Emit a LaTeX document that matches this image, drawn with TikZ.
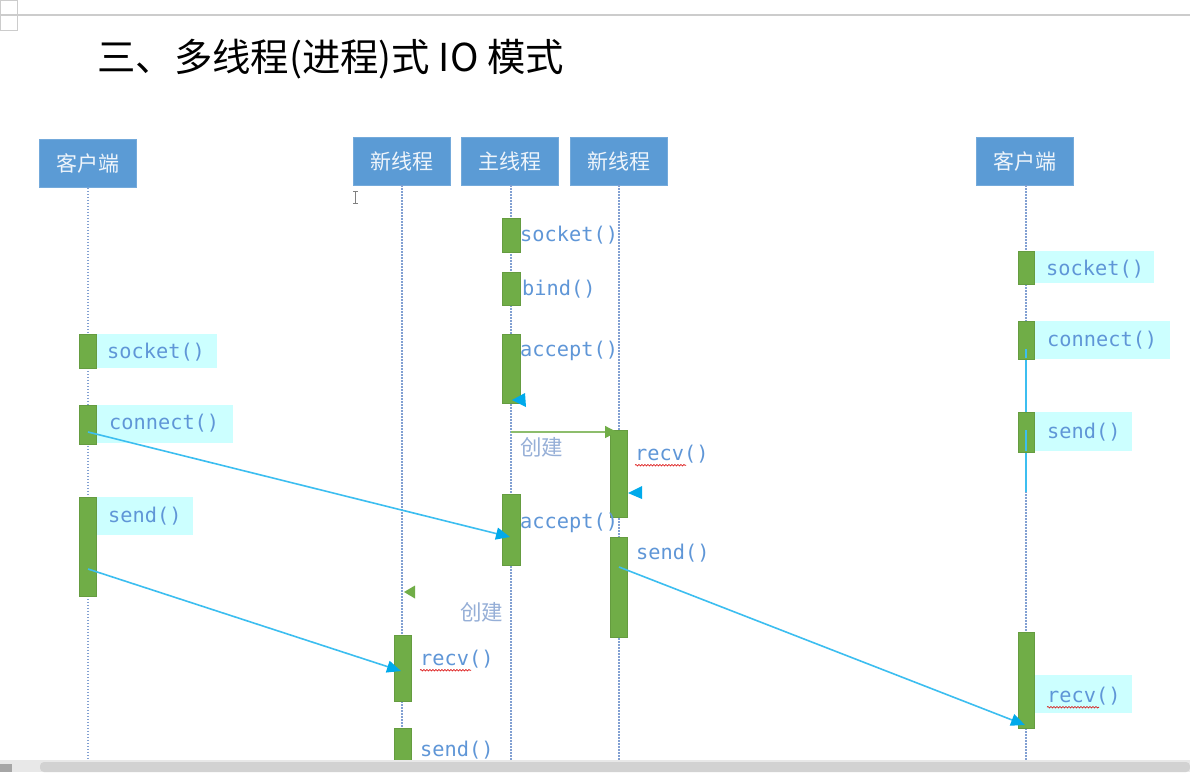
\documentclass[tikz,border=0pt]{standalone}
\usepackage{fontspec}
\newfontfamily\cjk{Noto Sans CJK SC}
\newfontfamily\monof{DejaVu Sans Mono}
\usetikzlibrary{arrows.meta,decorations.pathmorphing}
\definecolor{hdrblue}{RGB}{91,155,213}
\definecolor{actgreen}{RGB}{112,173,71}
\definecolor{lcyan}{RGB}{204,255,255}
\definecolor{lblblue}{RGB}{95,150,215}
\definecolor{lifec}{RGB}{130,160,210}
\definecolor{msgc}{RGB}{60,190,240}
\definecolor{headc}{RGB}{0,170,235}
\definecolor{crc}{RGB}{150,175,215}
\tikzset{
  head/.style={fill=hdrblue, draw=hdrblue!85!white, line width=0.8, minimum width=97, minimum height=48, inner sep=0, text=white!90!hdrblue, font=\cjk\fontsize{21}{21}\selectfont},
  life/.style={draw=lifec, line width=1.1, dash pattern=on 1.5pt off 1.5pt},
  actbar/.style={fill=actgreen, draw=actgreen!90!black, line width=0.4, minimum width=17, inner sep=0},
  lbl/.style={font=\monof\fontsize{20.3}{20.3}\selectfont, text=lblblue, anchor=west, inner sep=0},
  cbox/.style={fill=lcyan, inner sep=0, anchor=north west},
  msg/.style={draw=msgc, line width=1.6, -{Triangle[length=14,width=12,fill=headc,color=headc]}},
  create/.style={draw=actgreen!80!white, line width=1.3, -{Triangle[length=12,width=12,fill=actgreen,color=actgreen]}},
  crlbl/.style={font=\cjk\fontsize{21.5}{21.5}\selectfont, text=crc, inner sep=0},
  squig/.style={draw=red!85!black, line width=0.6, decorate, decoration={snake, amplitude=0.8pt, segment length=3pt}}
}
\begin{document}
\begin{tikzpicture}[x=1pt,y=-1pt]
\useasboundingbox (0,0) rectangle (1190,772);
\fill[white] (0,0) rectangle (1190,772);
% top strip
\draw[gray!40, line width=2] (0,15) -- (1190,15);
\draw[gray!40, line width=0.6] (0,0) rectangle (17,15) (0,15) rectangle (17,30);
% title
\node[anchor=west, inner sep=0, font=\cjk\fontsize{38.4}{38.4}\selectfont] (title) at (97,59) {三、多线程(进程)式 IO 模式};
% headers
\node[head] (lc) at (88,163.5) {客户端};
\node[head] (t1) at (402,161) {新线程};
\node[head] (mt) at (510,161) {主线程};
\node[head] (t2) at (618.5,161) {新线程};
\node[head] (rc) at (1025,161) {客户端};
% lifeline ends
\coordinate (lcE) at (88,762);
\coordinate (t1E) at (402,762);
\coordinate (mtE) at (511,762);
\coordinate (t2E) at (619,762);
\coordinate (rcE) at (1026,762);
\draw[life] (lc.south -| lcE) -- (lcE);
\draw[life] (t1.south -| t1E) -- (t1E);
\draw[life] (mt.south -| mtE) -- (mtE);
\draw[life] (t2.south -| t2E) -- (t2E);
\draw[life] (rc.south -| rcE) -- (rcE);
% cyan label boxes (left client)
\node[cbox, minimum width=120, minimum height=34] (lsockbox) at (97,334) {};
\node[cbox, minimum width=136, minimum height=38] (lconnbox) at (97,405) {};
\node[cbox, minimum width=96, minimum height=38] (lsendbox) at (97,497) {};
% cyan label boxes (right client)
\node[cbox, minimum width=120, minimum height=32] (rsockbox) at (1034,251) {};
\node[cbox, minimum width=136, minimum height=38] (rconnbox) at (1034,321) {};
\node[cbox, minimum width=98, minimum height=39] (rsendbox) at (1034,412) {};
\node[cbox, minimum width=98, minimum height=38] (rrecvbox) at (1034,675) {};
% right client vertical line
\coordinate (rv1) at (1026,347);
\coordinate (rv2) at (1026,492);
\draw[msgc, line width=1.4] (rv1) -- (rv2);
% activation bars - left client
\node[actbar, minimum height=34] (lsock) at (88,351) {};
\node[actbar, minimum height=39] (lconn) at (88,424.5) {};
\node[actbar, minimum height=99] (lsend) at (88,546.5) {};
% main thread
\node[actbar, minimum height=34, minimum width=18] (msock) at (511,235) {};
\node[actbar, minimum height=33, minimum width=18] (mbind) at (511,288.5) {};
\node[actbar, minimum height=69, minimum width=18] (macc1) at (511,368.5) {};
\node[actbar, minimum height=71, minimum width=18] (macc2) at (511,529.5) {};
% new thread 2
\node[actbar, minimum height=87] (t2recv) at (619,473.5) {};
\node[actbar, minimum height=100] (t2send) at (619,587) {};
% new thread 1
\node[actbar, minimum height=66] (t1recv) at (402.5,668) {};
\node[actbar, minimum height=34] (t1send) at (402.5,745) {};
% right client
\node[actbar, minimum height=33, minimum width=16] (rsock) at (1026,267.5) {};
\node[actbar, minimum height=38, minimum width=16] (rconn) at (1026,340) {};
\node[actbar, minimum height=40, minimum width=16] (rsend) at (1026,432) {};
\node[actbar, minimum height=96, minimum width=16] (rrecv) at (1026,680) {};
\draw[msgc, line width=1.4] (1026,349) -- (1026,358) (1026,430) -- (1026,451);
% labels
\node[lbl] (l1) at (107,352) {socket()};
\node[lbl] (l2) at (109,423) {connect()};
\node[lbl] (l3) at (108,516) {send()};
\node[lbl] (m1) at (520,235) {socket()};
\node[lbl] (m2) at (522,289) {bind()};
\node[lbl] (m3) at (520,351) {accept()};
\node[lbl] (m4) at (520,523) {accept()};
\node[lbl] (a1) at (635,454) {recv()};
\node[lbl] (a2) at (636,553) {send()};
\node[lbl] (b1) at (420,659) {recv()};
\node[lbl] (b2) at (420,750) {send()};
\node[lbl] (r1) at (1046,269) {socket()};
\node[lbl] (r2) at (1047,340) {connect()};
\node[lbl] (r3) at (1047,432) {send()};
\node[lbl] (r4) at (1047,696) {recv()};
% spell-check underlines
\draw[squig] (a1.south west) ++(0,2) -- ++(51,0);
\draw[squig] (b1.south west) ++(0,2) -- ++(51,0);
\draw[squig] (r4.south west) ++(0,2) -- ++(52,0);
% messages
\coordinate (c1s) at (88,432);
\coordinate (c1e) at (510,537);
\draw[msg] (c1s) -- (c1e);
\coordinate (c2s) at (88,569);
\coordinate (c2e) at (401,671);
\draw[msg] (c2s) -- (c2e);
\coordinate (c3s) at (619,567);
\coordinate (c3e) at (1025,725);
\draw[msg] (c3s) -- (c3e);
% create arrow
\coordinate (cr1s) at (511,432);
\coordinate (cr1e) at (617,432);
\draw[create] (cr1s) -- (cr1e);
\node[crlbl, anchor=west] (crl1) at (520,447) {创建};
% second create (head only)
\fill[actgreen] (404,592) -- (415,585.5) -- (415,598.5) -- cycle;
\node[crlbl, anchor=west] (crl2) at (460,612) {创建};
% small cyan heads
\fill[headc] (512,400) -- (525,393) -- (526,407) -- cycle;
\fill[headc] (628,493) -- (642,486) -- (642,499) -- cycle;
% text cursor
\draw[gray, line width=0.8] (355.5,191) -- (355.5,203) (353,191) -- (358,191) (353,203) -- (358,203);
% scrollbar
\fill[gray!18] (0,760) rectangle (1190,772);
\fill[gray!35, rounded corners=4] (40,762) rectangle (1190,772);
\fill[gray!70] (0,764) rectangle (12,772);
\end{tikzpicture}
\end{document}
